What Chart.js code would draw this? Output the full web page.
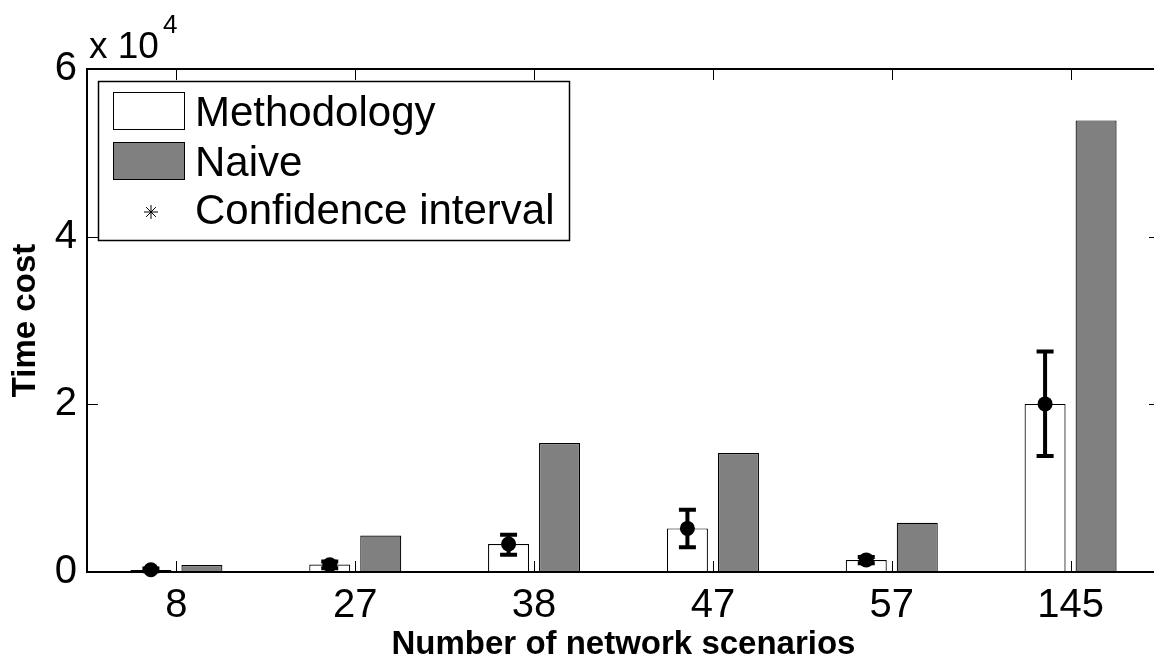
<!DOCTYPE html>
<html>
<head>
<meta charset="utf-8">
<script src="https://cdn.jsdelivr.net/npm/chart.js@4.4.1/dist/chart.umd.min.js"></script>
<style>
  html, body { margin: 0; padding: 0; background: #fff; overflow: hidden; width: 1154px; height: 665px; }
  canvas { display: block; }
</style>
</head>
<body>
<canvas id="c" width="1170" height="665"></canvas>
<script>
// Time cost per number of network scenarios
const categories = ['8', '27', '38', '47', '57', '145'];
const methodology = [250, 900, 3340, 5200, 1430, 20050];
const naive = [830, 4360, 15380, 14180, 5880, 53870];
// Confidence interval of the methodology runs
const ciMean = [260, 870, 3340, 5200, 1440, 20050];
const ciLow = [100, 450, 2060, 2940, 1050, 13830];
const ciHigh = [420, 1250, 4450, 7430, 1800, 26300];
const yTicks = [0, 20000, 40000, 60000];
const yExponent = 4;

const FONT = "'Liberation Sans', Arial, Helvetica, sans-serif";
const AXIS_LEFT = 87, AXIS_BOTTOM = 572;

// Error bars, inward tick marks, the axes box and the legend
const axesBox = {
  id: 'axesBox',
  afterDatasetsDraw(chart) {
    const ctx = chart.ctx;
    const ys = chart.scales.y;
    ctx.save();
    const meta = chart.getDatasetMeta(0);
    ctx.strokeStyle = '#000';
    ctx.fillStyle = '#000';
    ctx.lineWidth = 4;
    ctx.lineCap = 'butt';
    meta.data.forEach((bar, i) => {
      const x = bar.x;
      const yl = ys.getPixelForValue(ciLow[i]);
      const yh = ys.getPixelForValue(ciHigh[i]);
      const ym = ys.getPixelForValue(ciMean[i]);
      const hw = 8.5;
      ctx.beginPath();
      ctx.moveTo(x, yl); ctx.lineTo(x, yh);
      ctx.moveTo(x - hw, yl); ctx.lineTo(x + hw, yl);
      ctx.moveTo(x - hw, yh); ctx.lineTo(x + hw, yh);
      ctx.stroke();
      ctx.beginPath();
      ctx.arc(x, ym, 7.5, 0, Math.PI * 2);
      ctx.fill();
    });
    ctx.restore();
  },
  afterDraw(chart) {
    const ctx = chart.ctx, a = chart.chartArea;
    const xs = chart.scales.x, ys = chart.scales.y;
    ctx.save();
    ctx.strokeStyle = '#000';
    ctx.lineWidth = 1;
    const tl = 11;
    ctx.beginPath();
    categories.forEach((c, i) => {
      const x = Math.round(xs.getPixelForTick(i)) + 0.5;
      ctx.moveTo(x, a.bottom); ctx.lineTo(x, a.bottom - tl);
      ctx.moveTo(x, a.top); ctx.lineTo(x, a.top + tl);
    });
    yTicks.forEach(v => {
      const y = Math.round(ys.getPixelForValue(v)) + 0.5;
      ctx.moveTo(a.left, y); ctx.lineTo(a.left + tl, y);
      ctx.moveTo(a.right, y); ctx.lineTo(a.right - tl, y);
    });
    ctx.stroke();
    ctx.lineWidth = 2;
    ctx.strokeRect(a.left, a.top, a.right - a.left, a.bottom - a.top);

    // exponent label of the y axis
    ctx.fillStyle = '#000';
    ctx.textAlign = 'left';
    ctx.textBaseline = 'alphabetic';
    ctx.font = '37px ' + FONT;
    ctx.fillText('x 10', 89, 58);
    ctx.font = '26px ' + FONT;
    ctx.fillText(String(yExponent), 163, 33);

    // legend
    const lx = 98.5, ly = 81.5, lw = 471, lh = 159;
    ctx.fillStyle = '#fff';
    ctx.fillRect(lx, ly, lw, lh);
    ctx.lineWidth = 1.5;
    ctx.strokeStyle = '#000';
    ctx.strokeRect(lx, ly, lw, lh);
    const ds = chart.data.datasets;
    const rows = [
      { label: ds[0].label, fill: ds[0].backgroundColor, top: 92, base: 126 },
      { label: ds[1].label, fill: ds[1].backgroundColor, top: 142, base: 176 },
    ];
    rows.forEach(r => {
      ctx.fillStyle = r.fill;
      ctx.fillRect(113.5, r.top + 0.5, 71, 37);
      ctx.lineWidth = 1;
      ctx.strokeStyle = '#000';
      ctx.strokeRect(113.5, r.top + 0.5, 71, 37);
      ctx.fillStyle = '#000';
      ctx.font = '42px ' + FONT;
      ctx.fillText(r.label, 195, r.base);
    });
    // asterisk marker
    const cx = 151, cy = 212, s = 7;
    ctx.lineWidth = 1;
    ctx.beginPath();
    ctx.moveTo(cx - s, cy); ctx.lineTo(cx + s, cy);
    ctx.moveTo(cx, cy - s); ctx.lineTo(cx, cy + s);
    ctx.moveTo(cx - s * 0.7, cy - s * 0.7); ctx.lineTo(cx + s * 0.7, cy + s * 0.7);
    ctx.moveTo(cx - s * 0.7, cy + s * 0.7); ctx.lineTo(cx + s * 0.7, cy - s * 0.7);
    ctx.stroke();
    ctx.fillText('Confidence interval', 195, 224);
    ctx.restore();
  }
};

new Chart(document.getElementById('c'), {
  type: 'bar',
  data: {
    labels: categories,
    datasets: [
      { label: 'Methodology', data: methodology, backgroundColor: '#ffffff', borderColor: '#000000', borderWidth: 1.2,
        categoryPercentage: 0.5704, barPercentage: 0.804 },
      { label: 'Naive', data: naive, backgroundColor: '#808080', borderColor: '#000000', borderWidth: 1.2,
        categoryPercentage: 0.5704, barPercentage: 0.804 }
    ]
  },
  options: {
    responsive: false,
    animation: false,
    devicePixelRatio: 1,
    layout: { padding: { left: 0, top: 69, right: 10, bottom: 0 } },
    plugins: { legend: { display: false }, tooltip: { enabled: false } },
    scales: {
      x: {
        grid: { display: false, drawTicks: false },
        border: { display: false },
        ticks: { color: '#000', font: { family: FONT, size: 40 }, padding: 10, maxRotation: 0, autoSkip: false },
        title: { display: true, text: 'Number of network scenarios', color: '#000',
                 font: { family: FONT, size: 33, weight: 'bold' }, padding: { top: 0, bottom: 0 } },
        afterFit: s => { s.height = 665 - AXIS_BOTTOM; }
      },
      y: {
        min: 0, max: 60000,
        grid: { display: false, drawTicks: false },
        border: { display: false },
        afterBuildTicks: s => { s.ticks = yTicks.map(v => ({ value: v })); },
        ticks: { color: '#000', font: { family: FONT, size: 40 }, padding: 10,
                 callback: v => String(v / Math.pow(10, yExponent)) },
        title: { display: true, text: 'Time cost', color: '#000',
                 font: { family: FONT, size: 33, weight: 'bold' }, padding: { top: 6, bottom: 0 } },
        afterFit: s => { s.width = AXIS_LEFT; }
      }
    }
  },
  plugins: [axesBox]
});
</script>
</body>
</html>
